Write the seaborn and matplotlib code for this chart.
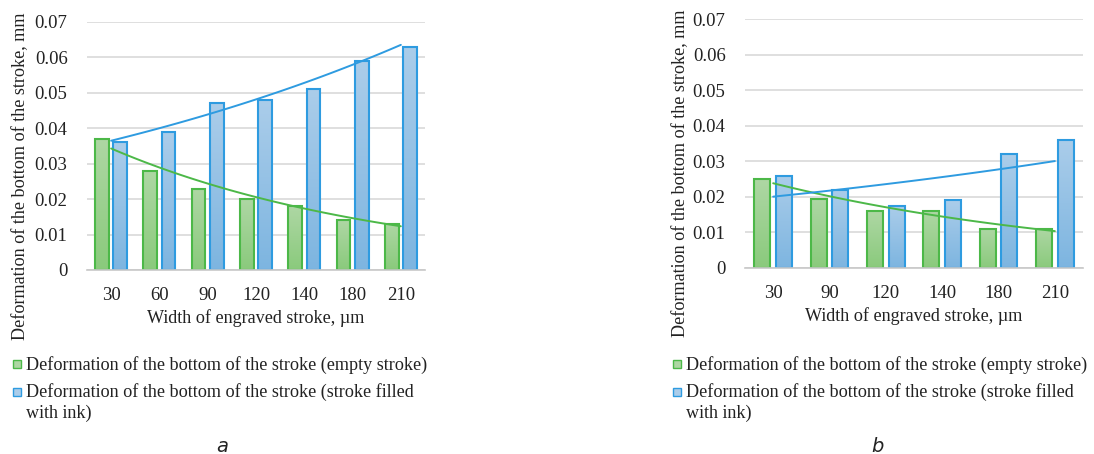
import numpy as np
import pandas as pd
import matplotlib
matplotlib.use("Agg")
import matplotlib.pyplot as plt
import seaborn as sns
from matplotlib.colors import LinearSegmentedColormap
from matplotlib.patches import Patch, Rectangle
from matplotlib.legend_handler import HandlerPatch

# ---- data ----
widths_a = ["30", "60", "90", "120", "140", "180", "210"]
empty_a = [0.037, 0.028, 0.023, 0.020, 0.018, 0.014, 0.013]
ink_a = [0.036, 0.039, 0.047, 0.048, 0.051, 0.059, 0.063]

widths_b = ["30", "90", "120", "140", "180", "210"]
empty_b = [0.025, 0.0195, 0.016, 0.016, 0.011, 0.011]
ink_b = [0.026, 0.022, 0.0175, 0.019, 0.032, 0.036]

series_names = ["Deformation of the bottom of the stroke (empty stroke)",
                "Deformation of the bottom of the stroke (stroke filled\nwith ink)"]
yticks = [0, 0.01, 0.02, 0.03, 0.04, 0.05, 0.06, 0.07]
ytick_labels = ["0", "0.01", "0.02", "0.03", "0.04", "0.05", "0.06", "0.07"]
xlabel = "Width of engraved stroke, \u00b5m"
ylabel = "Deformation of the bottom of the stroke, mm"
panel_labels = ["a", "b"]

# ---- style ----
sns.set_theme(style="white")
plt.rcParams["font.family"] = ["Liberation Serif", "DejaVu Serif"]

GREEN_EDGE = "#4cb848"
BLUE_EDGE = "#2e9be0"
GREEN_TOP, GREEN_BOT = "#aed7a4", "#8aca7c"
BLUE_TOP, BLUE_BOT = "#abcdea", "#7db5e0"
GRID = "#d9d9d9"
TXT = "#222222"
FS = 13.1

W, H = 1094, 454
fig = plt.figure(figsize=(W / 100, H / 100), dpi=100)


def px_axes(l, t, r, b):
    return fig.add_axes([l / W, (H - b) / H, (r - l) / W, (b - t) / H])


def draw_panel(ax, cats, empty, ink):
    df = pd.DataFrame({
        "cat": cats * 2,
        "val": list(empty) + list(ink),
        "series": [series_names[0]] * len(cats) + [series_names[1]] * len(cats),
    })
    sns.barplot(data=df, x="cat", y="val", hue="series", order=cats,
                hue_order=series_names, palette=[GREEN_BOT, BLUE_BOT],
                width=0.76, gap=0.25, ax=ax, legend=False, zorder=3,
                linewidth=1.5)
    n = len(cats)
    cmaps = [LinearSegmentedColormap.from_list("g", [GREEN_TOP, GREEN_BOT]),
             LinearSegmentedColormap.from_list("b", [BLUE_TOP, BLUE_BOT])]
    edges = [GREEN_EDGE, BLUE_EDGE]
    bars = [p for p in ax.patches]
    grad = np.linspace(0, 1, 256).reshape(-1, 1)
    for i, p in enumerate(bars):
        s = i // n
        p.set_edgecolor(edges[s])
        p.set_linewidth(1.5)
        x0, y0 = p.get_x(), p.get_y()
        w, h = p.get_width(), p.get_height()
        p.set_facecolor("none")
        im = ax.imshow(grad, cmap=cmaps[s], aspect="auto",
                       extent=[x0, x0 + w, y0, y0 + h], origin="upper",
                       zorder=2.5, interpolation="bilinear")
        clip = Rectangle((x0, y0), w, h, transform=ax.transData)
        im.set_clip_path(clip)
    # exponential trendlines computed from the series values
    xs = np.arange(1, n + 1)
    xx = np.linspace(1, n, 100)
    for vals, col in [(empty, GREEN_EDGE), (ink, BLUE_EDGE)]:
        k, c = np.polyfit(xs, np.log(vals), 1)
        ax.plot(xx - 1, np.exp(c + k * xx), color=col, lw=1.4, zorder=4)
    ax.set_xlim(-0.5, n - 0.5)
    ax.set_ylim(0, 0.07)
    ax.set_yticks(yticks)
    ax.set_yticklabels(ytick_labels)
    ax.yaxis.grid(True, color=GRID, lw=1.2, zorder=0)
    ax.set_axisbelow(True)
    for sp in ["top", "right", "left"]:
        ax.spines[sp].set_visible(False)
    ax.spines["bottom"].set_color("#c8c8c8")
    ax.spines["bottom"].set_linewidth(1.2)
    ax.spines["bottom"].set_zorder(5)
    ax.tick_params(axis="both", length=0, labelsize=13.5, colors=TXT)
    ax.tick_params(axis="x", pad=12)
    ax.tick_params(axis="y", pad=14)
    ax.set_xlabel(xlabel, fontsize=FS, color=TXT, labelpad=4)
    ax.set_ylabel(ylabel, fontsize=FS, color=TXT)


ax1 = px_axes(87, 22, 425, 270)
ax2 = px_axes(745, 19, 1083, 268)
draw_panel(ax1, widths_a, empty_a, ink_a)
draw_panel(ax2, widths_b, empty_b, ink_b)
ax1.yaxis.set_label_coords(-0.172, 0.38)
ax2.yaxis.set_label_coords(-0.166, 0.38)


def raised_square(legend, orig_handle, xdescent, ydescent, width, height, fontsize):
    s = width
    return Rectangle((-xdescent, -ydescent + 7.6 + (height - s) / 2), s, s)


def plain_square(legend, orig_handle, xdescent, ydescent, width, height, fontsize):
    s = width
    return Rectangle((-xdescent, -ydescent + (height - s) / 2), s, s)


for xl in [13, 673]:
    hg = Patch(facecolor=GREEN_TOP, edgecolor=GREEN_EDGE, lw=1.0)
    hb = Patch(facecolor=BLUE_TOP, edgecolor=BLUE_EDGE, lw=1.0)
    leg = fig.legend([hg, hb], series_names, loc="upper left",
                     bbox_to_anchor=(xl / W, (H - 356) / H), frameon=False,
                     fontsize=FS, handlelength=0.44, handleheight=0.7,
                     handletextpad=0.28, labelspacing=0.5, borderaxespad=0,
                     borderpad=0, labelcolor=TXT,
                     handler_map={hg: HandlerPatch(patch_func=plain_square),
                                  hb: HandlerPatch(patch_func=raised_square)})
    for t in leg.get_texts():
        t.set_linespacing(1.3)

for xc, lab in zip([222, 877], panel_labels):
    fig.text(xc / W, (H - 446) / H, lab, ha="center", va="center",
             fontsize=14, style="italic", family="DejaVu Sans", color=TXT)

fig.savefig("out.png", dpi=100)
